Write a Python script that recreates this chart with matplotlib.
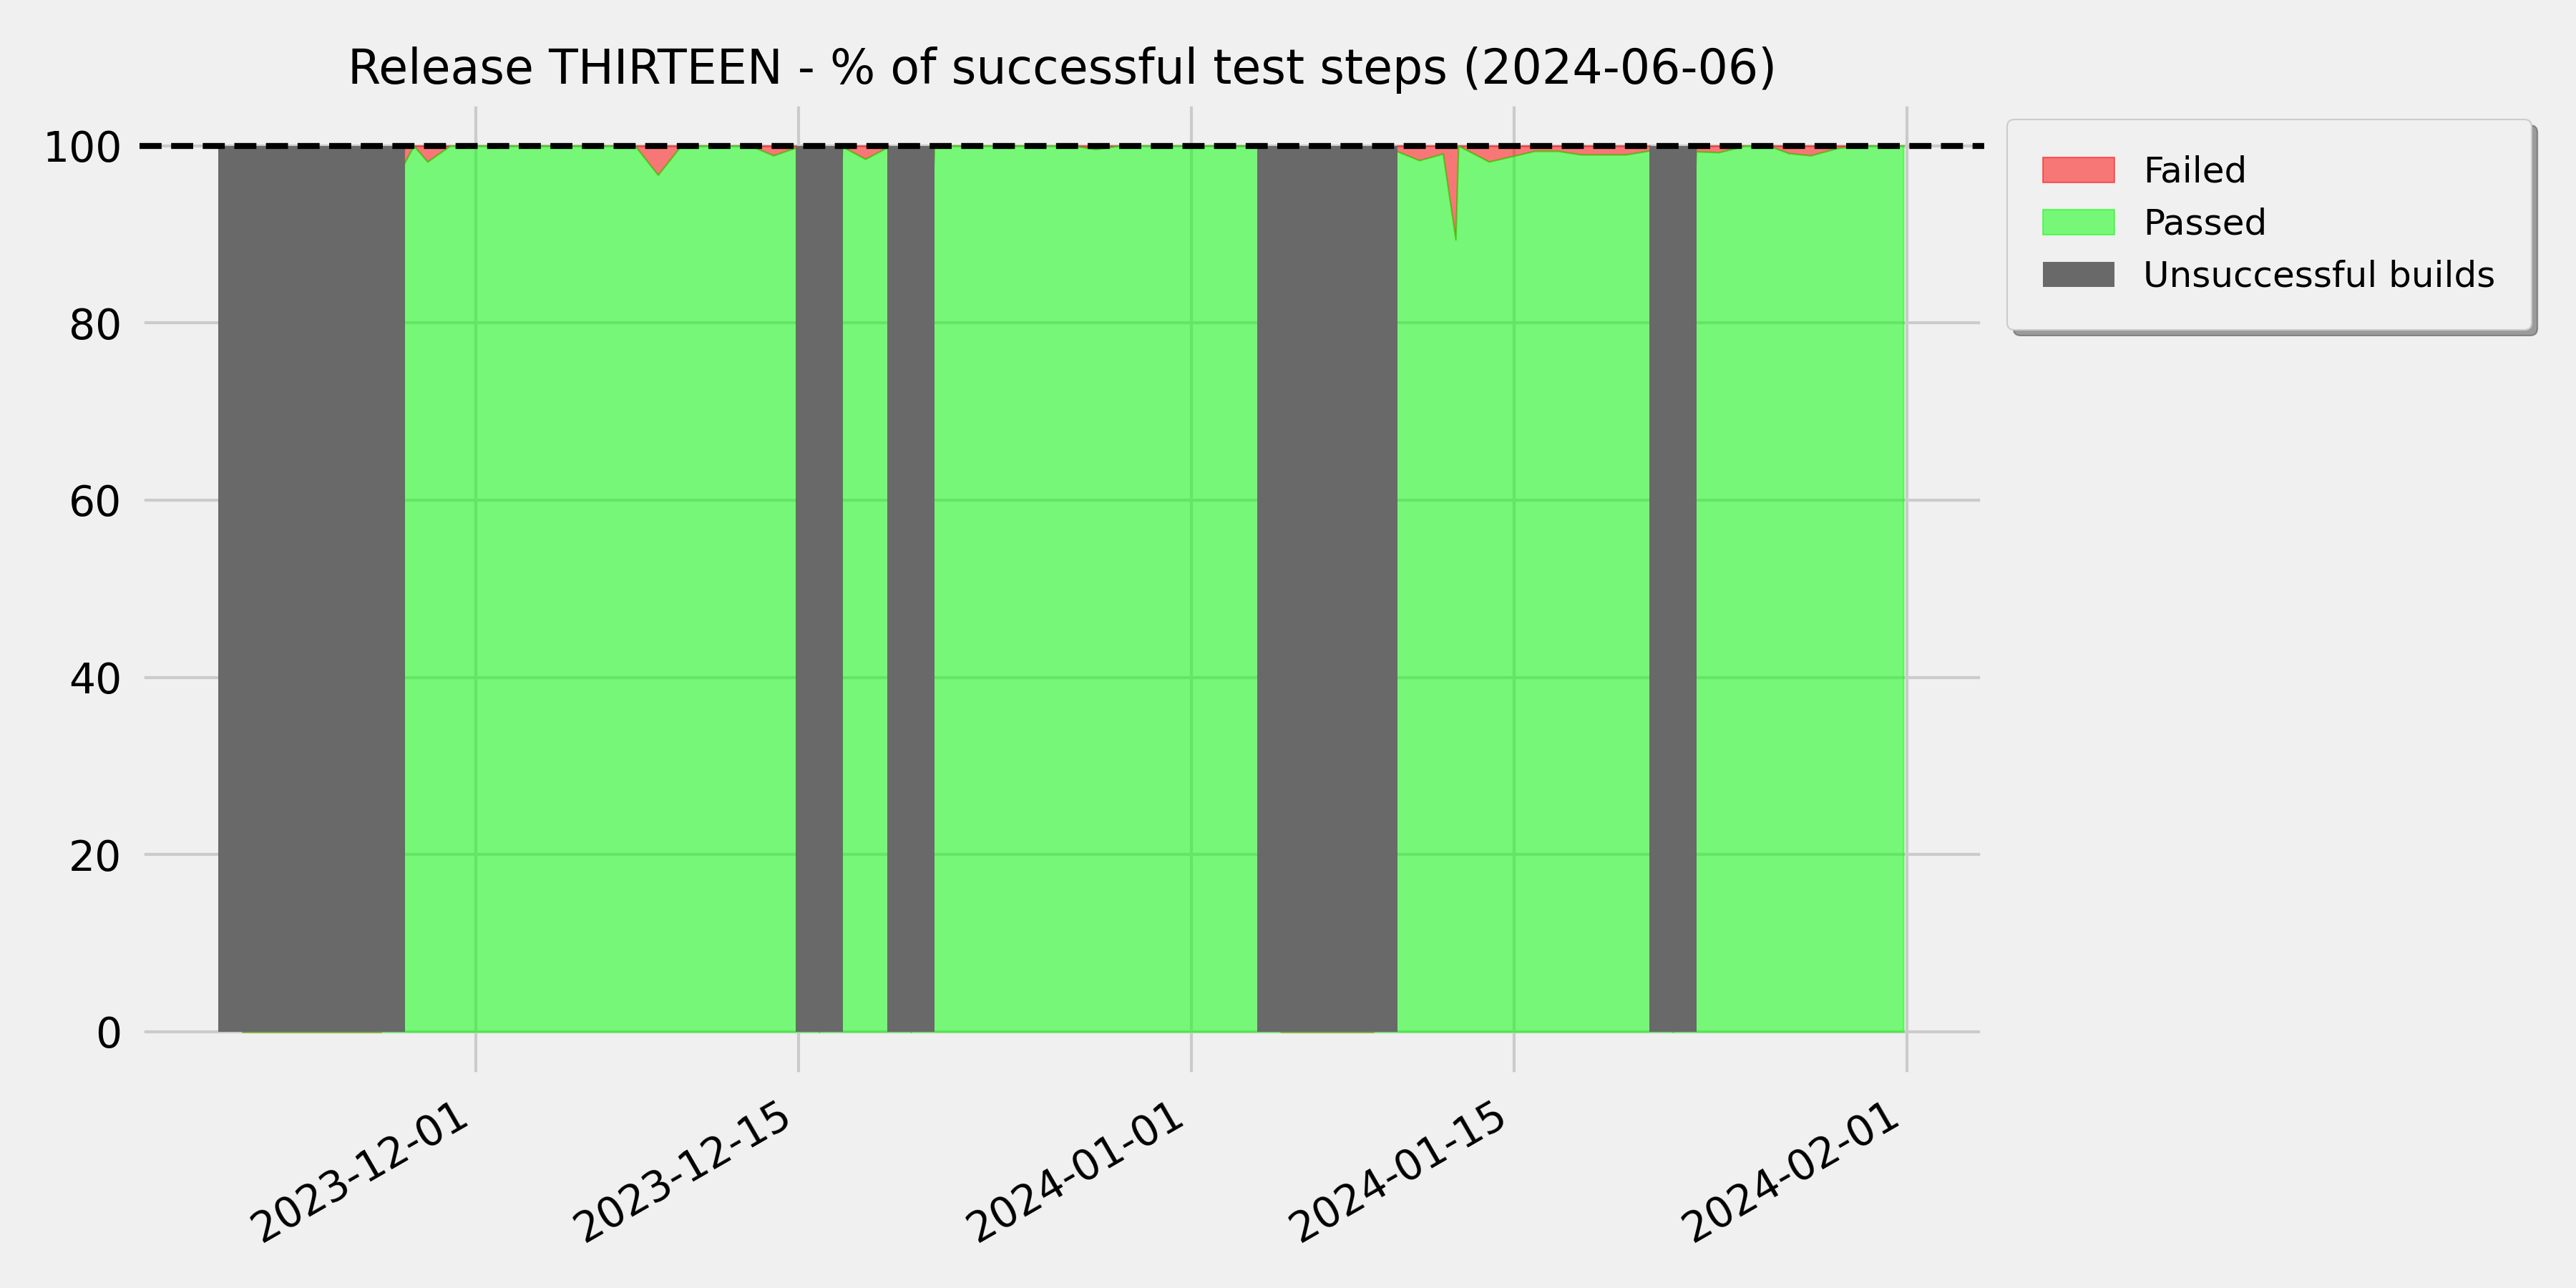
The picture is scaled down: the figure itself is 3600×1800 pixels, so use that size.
import matplotlib
matplotlib.use("Agg")
import matplotlib.pyplot as plt
import matplotlib.dates as mdates
import pandas as pd

plt.style.use("fivethirtyeight")
plt.rcParams["font.family"] = ["DejaVu Sans"]

title = "Release THIRTEEN - % of successful test steps (2024-06-06)"
series_labels = ["Failed", "Passed", "Unsuccessful builds"]

# build timestamp, % passed steps, % failed steps, build succeeded
build_times = [
    "2023-11-20 21:30", "2023-11-21 21:30", "2023-11-22 21:30", "2023-11-23 21:30",
    "2023-11-24 21:30", "2023-11-25 21:30", "2023-11-26 21:40", "2023-11-27 21:20",
    "2023-11-28 07:40", "2023-11-28 22:00", "2023-11-29 21:40", "2023-11-30 21:40",
    "2023-12-01 21:40", "2023-12-02 21:40", "2023-12-03 21:40", "2023-12-04 21:40",
    "2023-12-05 21:40", "2023-12-06 21:40", "2023-12-07 21:40", "2023-12-08 21:40",
    "2023-12-09 21:40", "2023-12-10 21:40", "2023-12-11 21:40", "2023-12-12 21:40",
    "2023-12-13 21:40", "2023-12-14 21:40", "2023-12-15 21:20", "2023-12-16 21:10",
    "2023-12-17 21:20", "2023-12-18 21:40", "2023-12-19 20:50", "2023-12-20 20:40",
    "2023-12-21 21:40", "2023-12-22 21:40", "2023-12-23 21:40", "2023-12-24 21:40",
    "2023-12-25 21:40", "2023-12-26 21:40", "2023-12-27 20:40", "2023-12-28 21:40",
    "2023-12-29 21:40", "2023-12-30 21:40", "2023-12-31 21:40", "2024-01-01 21:40",
    "2024-01-02 21:40", "2024-01-03 21:40", "2024-01-04 21:10", "2024-01-05 21:30",
    "2024-01-06 21:30", "2024-01-07 21:30", "2024-01-08 21:40", "2024-01-09 21:30",
    "2024-01-10 21:20", "2024-01-11 21:50", "2024-01-12 11:00", "2024-01-12 13:50",
    "2024-01-13 21:40", "2024-01-14 21:40", "2024-01-15 21:00", "2024-01-16 21:10",
    "2024-01-17 21:20", "2024-01-18 21:40", "2024-01-19 20:10", "2024-01-20 21:05",
    "2024-01-21 21:00", "2024-01-22 20:50", "2024-01-23 20:50", "2024-01-25 00:00",
    "2024-01-26 00:30", "2024-01-26 21:20", "2024-01-27 20:10", "2024-01-29 01:00",
    "2024-01-30 03:00", "2024-01-30 22:00", "2024-01-31 20:40",
]
passed_pct = [
    0, 0, 0, 0,
    0, 0, 0, 97.9,
    100, 98.2, 100, 100,
    100, 100, 100, 100,
    100, 100, 100, 96.7,
    100, 100, 100, 100,
    98.9, 99.8, 0, 99.9,
    98.5, 99.9, 0, 100,
    100, 100, 100, 100,
    100, 100, 99.6, 100,
    100, 100, 100, 100,
    100, 100, 0, 0,
    0, 0, 0, 99.4,
    98.35, 99.1, 89.4, 100,
    98.2, 98.8, 99.4, 99.4,
    99.0, 99.0, 99.0, 99.45,
    0, 99.35, 99.25, 100,
    100, 99.15, 98.9, 99.75,
    100, 100, 100,
]
failed_pct = [
    0, 0, 0, 0,
    0, 0, 0, 2.1,
    0, 1.8, 0, 0,
    0, 0, 0, 0,
    0, 0, 0, 3.3,
    0, 0, 0, 0,
    1.1, 0.2, 0, 0.1,
    1.5, 0.1, 0, 0,
    0, 0, 0, 0,
    0, 0, 0.4, 0,
    0, 0, 0, 0,
    0, 0, 0, 0,
    0, 0, 0, 0.6,
    1.65, 0.9, 10.6, 0,
    1.8, 1.2, 0.6, 0.6,
    1.0, 1.0, 1.0, 0.55,
    0, 0.65, 0.75, 0,
    0, 0.85, 1.1, 0.25,
    0, 0, 0,
]
build_ok = [
    False, False, False, False,
    False, False, False, True,
    True, True, True, True,
    True, True, True, True,
    True, True, True, True,
    True, True, True, True,
    True, True, False, True,
    True, True, False, True,
    True, True, True, True,
    True, True, True, True,
    True, True, True, True,
    True, True, False, False,
    False, False, False, True,
    True, True, True, True,
    True, True, True, True,
    True, True, True, True,
    False, True, True, True,
    True, True, True, True,
    True, True, True,
]

df = pd.DataFrame({
    "time": pd.to_datetime(build_times),
    "passed": passed_pct,
    "failed": failed_pct,
    "ok": build_ok,
})
df["top"] = df["passed"] + df["failed"]
bad = df[~df["ok"]]

fig, ax = plt.subplots(figsize=(12, 6), dpi=300)
fig.subplots_adjust(left=0.0543, right=0.7704, top=0.9213, bottom=0.1646)

h_failed = ax.fill_between(df["time"], df["passed"], df["top"], color="red", alpha=0.5,
                           linewidth=0.5, label=series_labels[0], zorder=1)
h_passed = ax.fill_between(df["time"], 0, df["passed"], color="lime", alpha=0.5,
                           linewidth=0.5, label=series_labels[1], zorder=1)
bars = ax.bar(bad["time"], [100] * len(bad), width=2.06, color="dimgray",
              linewidth=0, label=series_labels[2], zorder=2)
ax.axhline(100, color="black", linestyle="--", linewidth=2, zorder=3)

ax.set_xlim(pd.Timestamp("2023-11-16 11:00"), pd.Timestamp("2024-02-04 09:00"))
ax.set_ylim(-5, 105)
ax.set_yticks([0, 20, 40, 60, 80, 100])
ax.xaxis.set_major_locator(mdates.DayLocator(bymonthday=[1, 15]))
ax.xaxis.set_major_formatter(mdates.DateFormatter("%Y-%m-%d"))
ax.tick_params(axis="both", labelsize=14, pad=6, length=0)
for lbl in ax.get_xticklabels():
    lbl.set_rotation(30)
    lbl.set_ha("right")

ax.set_title(title, fontsize=16)

ax.legend(handles=[h_failed, h_passed, bars], labels=series_labels,
          loc="upper left", bbox_to_anchor=(1.0027, 1.0), fontsize=12,
          borderpad=1.0, shadow=True, fancybox=True, framealpha=1.0)

fig.savefig("out.png", dpi=300, facecolor=fig.get_facecolor())
